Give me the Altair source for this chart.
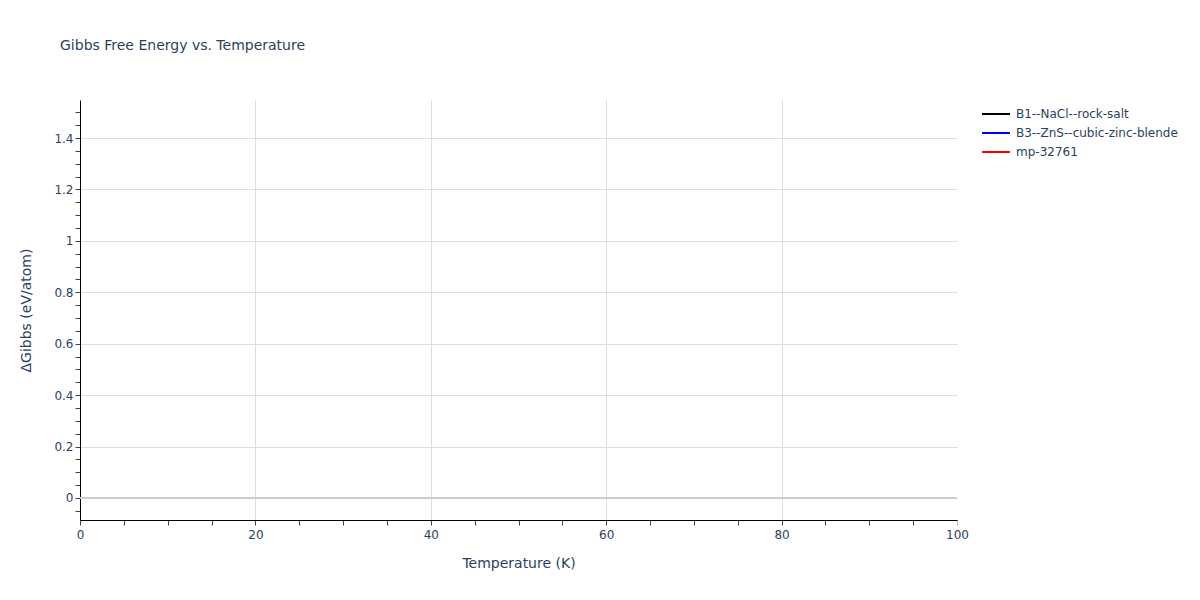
import altair as alt
import pandas as pd
import numpy as np

# Series (no visible data points in the reference: all values empty)
series_names = ["B1--NaCl--rock-salt", "B3--ZnS--cubic-zinc-blende", "mp-32761"]
series_colors = ["black", "blue", "red"]
temperature = [np.nan, np.nan, np.nan]
gibbs = [np.nan, np.nan, np.nan]

x_minor = [v * 5 for v in range(0, 21)]
y_minor = [round(-0.05 + 0.05 * i, 2) for i in range(0, 32)]
y_domain = [-0.0856, 1.548]
x_domain = [0, 100]
zero_level = [0.0]

df = pd.DataFrame({"series": series_names, "T": temperature, "G": gibbs})
zero_df = pd.DataFrame({"G": zero_level})

FONT = "DejaVu Sans"
TXT = "#2a3f5f"
MAJOR_Y = "abs(datum.value*5 - round(datum.value*5)) < 0.001"

x_enc = alt.X(
    "T:Q",
    scale=alt.Scale(domain=x_domain, nice=False, zero=False),
    axis=alt.Axis(
        title="Temperature (K)",
        values=x_minor,
        labelExpr="datum.value % 20 == 0 ? datum.label : ''",
        grid=True,
        gridColor={"condition": {"test": "datum.value % 20 == 0 && datum.value > 0 && datum.value < 100", "value": "#dddddd"}, "value": "transparent"},
        domainColor="#000000",
        domainWidth=1,
        tickColor={"condition": {"test": "datum.value == 100", "value": "#bbbbbb"}, "value": "#444444"},
        tickSize=5,
        labelFontSize=12,
        labelColor=TXT,
        labelFont=FONT,
        labelPadding=4,
        labelOverlap=False,
        titleFontSize=14,
        titleFontWeight="normal",
        titleColor=TXT,
        titleFont=FONT,
        titlePadding=16,
        labelFlush=False,
    ),
)

y_enc = alt.Y(
    "G:Q",
    scale=alt.Scale(domain=y_domain, nice=False, zero=False),
    axis=alt.Axis(
        title="ΔGibbs (eV/atom)",
        values=y_minor,
        labelExpr=MAJOR_Y + " ? (abs(datum.value) < 0.001 ? '0' : format(datum.value, '.1~f')) : ''",
        grid=True,
        gridColor={"condition": {"test": MAJOR_Y + " && abs(datum.value) > 0.001", "value": "#dddddd"}, "value": "transparent"},
        domainColor="#000000",
        domainWidth=1,
        tickColor="#444444",
        tickSize=5,
        labelFontSize=12,
        labelColor=TXT,
        labelFont=FONT,
        labelPadding=2,
        labelOverlap=False,
        titleFontSize=14,
        titleFontWeight="normal",
        titleColor=TXT,
        titleFont=FONT,
        titlePadding=20,
        labelFlush=False,
    ),
)

lines = alt.Chart(df).transform_filter(
    "isValid(datum.G) && isFinite(datum.G) && isValid(datum.T) && isFinite(datum.T)"
).mark_line(strokeWidth=2).encode(
    x=x_enc,
    y=y_enc,
    color=alt.Color(
        "series:N",
        scale=alt.Scale(domain=series_names, range=series_colors),
        legend=alt.Legend(
            title=None,
            orient="none",
            legendX=901,
            legendY=8,
            symbolType="M-1,0H4.6",
            symbolSize=100,
            symbolStrokeWidth=2,
            labelFontSize=12,
            labelColor=TXT,
            labelFont=FONT,
            labelLimit=300,
            rowPadding=7,
            labelOffset=23,
        ),
    ),
)

zero = alt.Chart(zero_df).mark_rule(color="#cccccc", strokeWidth=2).encode(y=y_enc)

chart = alt.layer(lines, zero).properties(
    width=877,
    height=420,
    autosize=alt.AutoSizeParams(type="none"),
    padding={"left": 72, "top": 92, "right": 235, "bottom": 80},
    title=alt.TitleParams(
        "Gibbs Free Energy vs. Temperature",
        anchor="start",
        frame="group",
        dx=-20,
        offset=47,
        fontSize=14,
        fontWeight="normal",
        font=FONT,
        color=TXT,
    ),
).configure(background="white").configure_view(stroke="transparent", strokeWidth=0)

chart.save("out.html", embed_options={"renderer": "svg", "actions": False})
